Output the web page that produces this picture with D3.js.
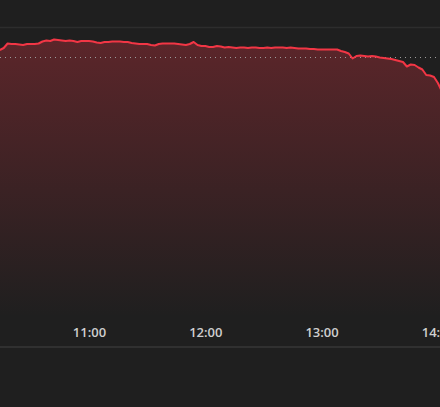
<!DOCTYPE html>
<html>
<head>
<meta charset="utf-8">
<script src="https://cdn.jsdelivr.net/npm/d3@7"></script>
<style>
  html, body { margin: 0; padding: 0; background: #1f1f1f; overflow: hidden; }
  svg { display: block; }
</style>
</head>
<body>
<div id="chart"></div>
<script>
// intraday prices, one every 2 minutes
let times = [
  "10:14","10:16","10:18","10:20","10:22","10:24","10:26","10:28","10:30","10:32",
  "10:34","10:36","10:38","10:40","10:42","10:44","10:46","10:48","10:50","10:52",
  "10:54","10:56","10:58","11:00","11:02","11:04","11:06","11:08","11:10","11:12",
  "11:14","11:16","11:18","11:20","11:22","11:24","11:26","11:28","11:30","11:32",
  "11:34","11:36","11:38","11:40","11:42","11:44","11:46","11:48","11:50","11:52",
  "11:54","11:56","11:58","12:00","12:02","12:04","12:06","12:08","12:10","12:12",
  "12:14","12:16","12:18","12:20","12:22","12:24","12:26","12:28","12:30","12:32",
  "12:34","12:36","12:38","12:40","12:42","12:44","12:46","12:48","12:50","12:52",
  "12:54","12:56","12:58","13:00","13:02","13:04","13:06","13:08","13:10","13:12",
  "13:14","13:16","13:18","13:20","13:22","13:24","13:26","13:28","13:30","13:32",
  "13:34","13:36","13:38","13:40","13:42","13:44","13:46","13:48","13:50","13:52",
  "13:54","13:56","13:58","14:00","14:02"
];
let prices = [
  24.54,24.58,24.67,24.66,24.66,24.65,24.64,24.66,24.66,24.66,
  24.67,24.71,24.73,24.72,24.75,24.74,24.73,24.72,24.73,24.72,
  24.70,24.72,24.72,24.72,24.71,24.69,24.68,24.70,24.70,24.71,
  24.71,24.71,24.70,24.70,24.68,24.67,24.66,24.66,24.66,24.64,
  24.63,24.66,24.67,24.67,24.67,24.67,24.66,24.65,24.64,24.66,
  24.70,24.64,24.62,24.62,24.60,24.60,24.62,24.61,24.59,24.60,
  24.59,24.58,24.59,24.59,24.58,24.59,24.59,24.58,24.58,24.59,
  24.58,24.59,24.59,24.59,24.58,24.59,24.58,24.57,24.57,24.57,
  24.56,24.56,24.55,24.55,24.55,24.55,24.55,24.55,24.52,24.50,
  24.47,24.37,24.42,24.43,24.42,24.41,24.42,24.41,24.39,24.38,
  24.37,24.36,24.34,24.32,24.30,24.21,24.25,24.24,24.19,24.15,
  24.04,24.03,24.00,23.88,23.72
];
let prevClose = 24.40;
let gridValues = [25.00];
let timeTicks = ["11:00", "12:00", "13:00", "14:00"];
let timeRange = ["10:14:05", "14:01:06"];
let priceRange = [19.20, 25.00];

let width = 440, height = 407;
let plotTop = 27, plotBottom = 317, axisY = 347;

let parseTime = d3.timeParse("%H:%M");
let parseSec = d3.timeParse("%H:%M:%S");

let data = times.map((t, i) => ({ t: parseTime(t), v: prices[i] }));

let svg = d3.select("#chart").append("svg")
  .attr("width", width)
  .attr("height", height);

svg.append("rect")
  .attr("width", width).attr("height", height)
  .attr("fill", "#1f1f1f");

let x = d3.scaleTime()
  .domain(timeRange.map(parseSec))
  .range([0, width]);

let y = d3.scaleLinear()
  .domain(priceRange)
  .range([plotBottom, plotTop]);

// gradient under the line
let grad = svg.append("defs").append("linearGradient")
  .attr("id", "fade")
  .attr("gradientUnits", "userSpaceOnUse")
  .attr("x1", 0).attr("x2", 0)
  .attr("y1", plotTop).attr("y2", plotBottom);
grad.append("stop").attr("offset", 0).attr("stop-color", "#f23645").attr("stop-opacity", 0.3);
grad.append("stop").attr("offset", 1).attr("stop-color", "#f23645").attr("stop-opacity", 0);

// horizontal grid
svg.selectAll(".grid")
  .data(gridValues)
  .enter().append("line")
  .attr("x1", 0).attr("x2", width)
  .attr("y1", d => y(d) + 0.5).attr("y2", d => y(d) + 0.5)
  .attr("stroke", "#2d2d2d")
  .attr("stroke-width", 1.5);

let area = d3.area()
  .x(d => x(d.t))
  .y0(plotBottom)
  .y1(d => y(d.v));

svg.append("path")
  .datum(data)
  .attr("d", area)
  .attr("fill", "url(#fade)");

// previous close
svg.append("line")
  .attr("x1", 0).attr("x2", width)
  .attr("y1", Math.round(y(prevClose)) + 0.5).attr("y2", Math.round(y(prevClose)) + 0.5)
  .attr("stroke", "#9a9a9a")
  .attr("stroke-width", 1)
  .attr("stroke-dasharray", "1,4");

let line = d3.line()
  .x(d => x(d.t))
  .y(d => y(d.v));

svg.append("path")
  .datum(data)
  .attr("d", line)
  .attr("fill", "none")
  .attr("stroke", "#f23645")
  .attr("stroke-width", 2)
  .attr("stroke-linejoin", "round");

// time axis
let axis = svg.append("g")
  .attr("transform", "translate(0," + 337 + ")")
  .call(d3.axisBottom(x)
    .tickValues(timeTicks.map(parseTime))
    .tickSize(0)
    .tickPadding(0)
    .tickFormat(d3.timeFormat("%H:%M")));
axis.select(".domain").remove();
axis.selectAll("text")
  .attr("dy", 0)
  .attr("y", 0)
  .attr("fill", "#cfcfcf")
  .attr("font-family", "'Open Sans', sans-serif")
  .attr("font-weight", 600)
  .attr("font-size", "13px");

svg.append("line")
  .attr("x1", 0).attr("x2", width)
  .attr("y1", axisY).attr("y2", axisY)
  .attr("stroke", "#303030")
  .attr("stroke-width", 2);
</script>
</body>
</html>
